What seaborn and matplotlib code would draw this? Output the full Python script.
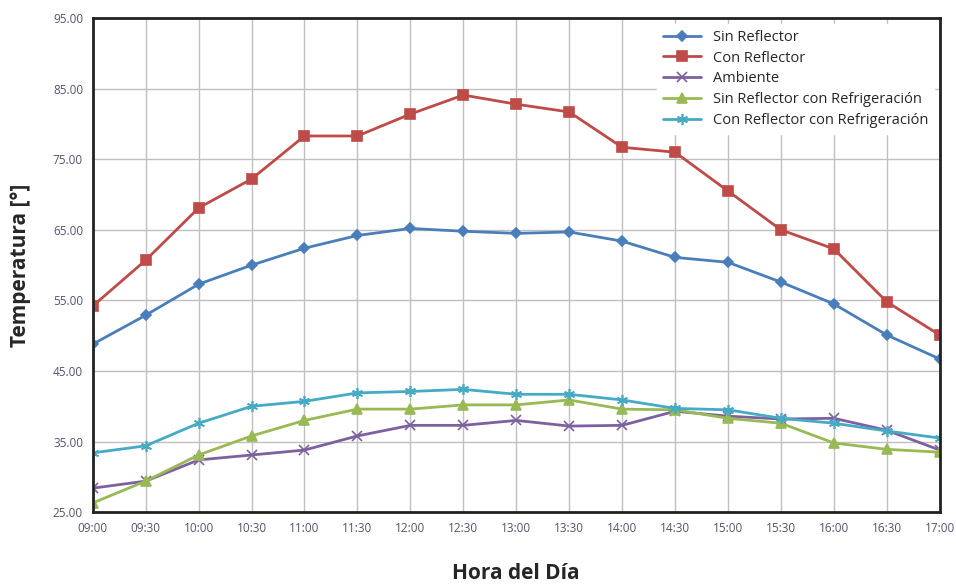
import pandas as pd
import matplotlib.pyplot as plt
import seaborn as sns

horas = ["09:00", "09:30", "10:00", "10:30", "11:00", "11:30", "12:00", "12:30", "13:00",
         "13:30", "14:00", "14:30", "15:00", "15:30", "16:00", "16:30", "17:00"]

sin_reflector = [48.8, 52.9, 57.3, 60.0, 62.4, 64.2, 65.2, 64.8, 64.5, 64.7, 63.4, 61.1, 60.4, 57.6, 54.5, 50.1, 46.7]
con_reflector = [54.2, 60.7, 68.1, 72.2, 78.3, 78.3, 81.4, 84.1, 82.8, 81.7, 76.7, 76.0, 70.5, 65.0, 62.3, 54.8, 50.1]
ambiente = [28.4, 29.4, 32.4, 33.1, 33.8, 35.8, 37.3, 37.3, 38.0, 37.2, 37.3, 39.3, 38.6, 38.2, 38.3, 36.6, 33.8]
sin_ref_refrig = [26.3, 29.4, 33.1, 35.8, 38.0, 39.6, 39.6, 40.2, 40.2, 40.9, 39.6, 39.5, 38.3, 37.6, 34.8, 33.9, 33.5]
con_ref_refrig = [33.4, 34.4, 37.6, 40.0, 40.7, 41.9, 42.1, 42.4, 41.7, 41.7, 40.9, 39.7, 39.5, 38.3, 37.6, 36.5, 35.5]

series = {
    "Sin Reflector": sin_reflector,
    "Con Reflector": con_reflector,
    "Ambiente": ambiente,
    "Sin Reflector con Refrigeración": sin_ref_refrig,
    "Con Reflector con Refrigeración": con_ref_refrig,
}
colores = ["#4a7ebb", "#be4b48", "#7d60a0", "#98b954", "#46aac5"]
marcadores = ["D", "s", "x", "^", (6, 2, 0)]
tamanos = [5, 7.5, 7, 7, 8]

rows = []
for nombre, vals in series.items():
    for i, v in enumerate(vals):
        rows.append({"idx": i, "Temperatura": v, "Serie": nombre})
df = pd.DataFrame(rows)

sns.set_style("white")
plt.rcParams["font.family"] = ["Open Sans", "DejaVu Sans"]

fig, ax = plt.subplots(figsize=(9.56, 5.84), dpi=100)
fig.subplots_adjust(left=0.097, right=0.983, top=0.969, bottom=0.123)

for (nombre, vals), c, m, ms in zip(series.items(), colores, marcadores, tamanos):
    sub = df[df["Serie"] == nombre]
    sns.lineplot(data=sub, x="idx", y="Temperatura", ax=ax, color=c, marker=m,
                 markersize=ms, markeredgecolor=c, markeredgewidth=1.2,
                 linewidth=2, label=nombre)

ax.set_xlim(0, len(horas) - 1)
ax.set_ylim(25, 95)
ax.set_xticks(range(len(horas)))
ax.set_xticklabels(horas)
ax.set_yticks(range(25, 96, 10))
ax.set_yticklabels([f"{v:.2f}" for v in range(25, 96, 10)])
ax.tick_params(axis="both", labelsize=8.5, labelcolor="#5a5070", length=0, pad=7)
ax.grid(True, color="#c0c0c0", linewidth=1)
for s in ax.spines.values():
    s.set_color("#222222")
    s.set_linewidth(2)

ax.set_xlabel("Hora del Día", fontsize=15, fontweight="bold", labelpad=20)
ax.set_ylabel("Temperatura [°]", fontsize=15, fontweight="bold", labelpad=16)

leg = ax.legend(loc="upper right", fontsize=10.5, frameon=True, fancybox=False,
                borderaxespad=0.4, handlelength=2.6, labelspacing=0.4)
leg.get_frame().set_facecolor("white")
leg.get_frame().set_edgecolor("white")
leg.get_frame().set_alpha(1)

plt.savefig("out.png", dpi=100)
